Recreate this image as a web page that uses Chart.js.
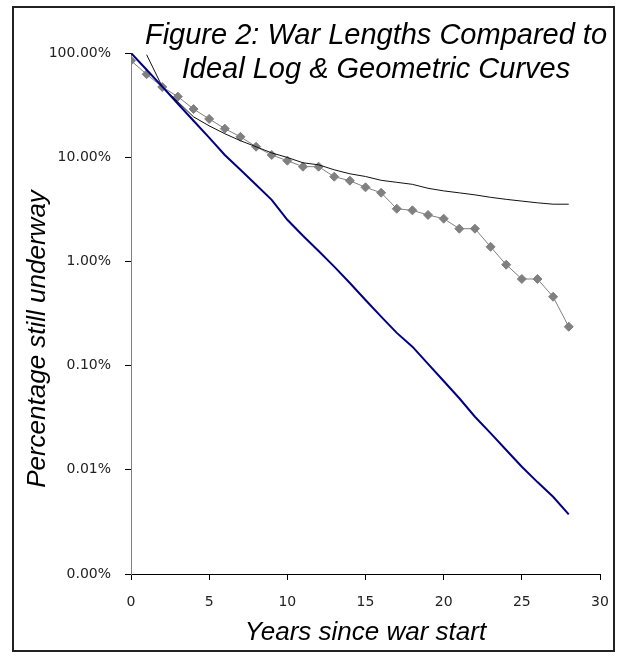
<!DOCTYPE html>
<html>
<head>
<meta charset="utf-8">
<title>War Lengths Compared to Ideal Log & Geometric Curves</title>
<script src="https://cdn.jsdelivr.net/npm/chart.js@4.4.0/dist/chart.umd.min.js"></script>
<style>
  html, body { margin: 0; padding: 0; background: #fff; }
  canvas { display: block; }
</style>
</head>
<body>
<canvas id="warChart" width="618" height="656"></canvas>
<script>
// years since war start, and % of wars still going
const years = [0, 1, 2, 3, 4, 5, 6, 7, 8, 9, 10, 11, 12, 13, 14, 15, 16, 17, 18, 19, 20, 21, 22, 23, 24, 25, 26, 27, 28];
const actualPct = [84.4, 62.5, 47.2, 38.1, 29.0, 23.3, 18.8, 15.7, 12.6, 10.5, 9.26, 8.11, 8.11, 6.50, 5.95, 5.14, 4.56, 3.20, 3.09, 2.79, 2.57, 2.06, 2.06, 1.38, 0.93, 0.678, 0.678, 0.458, 0.236];
const geoPct = [100, 69.1, 47.5, 32.6, 22.4, 15.4, 10.5, 7.57, 5.43, 3.90, 2.51, 1.76, 1.26, 0.891, 0.621, 0.426, 0.295, 0.206, 0.152, 0.104, 0.0711, 0.0486, 0.0323, 0.0225, 0.0155, 0.0107, 0.00762, 0.00551, 0.00373];
const logYears = [1, 2, 3, 4, 5, 6, 7, 8, 9, 10, 11, 12, 13, 14, 15, 16, 17, 18, 19, 20, 21, 22, 23, 24, 25, 26, 27, 28];
const logPct = [96.3, 47.4, 34.0, 24.4, 20.0, 16.8, 14.4, 12.6, 11.0, 9.94, 8.84, 8.45, 7.57, 6.93, 6.53, 6.00, 5.74, 5.49, 5.03, 4.75, 4.55, 4.35, 4.12, 3.94, 3.79, 3.65, 3.54, 3.54];

const yTicks = [0.001, 0.01, 0.1, 1, 10, 100];
const titleLines = ["Figure 2: War Lengths Compared to", "Ideal Log & Geometric Curves"];
const yTitle = "Percentage still underway";
const xTitle = "Years since war start";

function toPoints(xs, ys) {
  return xs.map((x, i) => ({ x: x, y: ys[i] }));
}

// white background, frame, title and y title drawn by hand
const frameAndText = {
  id: "frameAndText",
  beforeDraw(chart) {
    const c = chart.ctx;
    c.save();
    c.fillStyle = "#fff";
    c.fillRect(0, 0, chart.width, chart.height);
    c.restore();
  },
  afterDraw(chart) {
    const c = chart.ctx;
    c.save();
    c.strokeStyle = "#222";
    c.lineWidth = 2;
    c.strokeRect(13, 7, 601, 644);

    c.fillStyle = "#000";
    c.textAlign = "center";
    c.textBaseline = "alphabetic";
    c.font = "italic 29px 'Liberation Sans', Arial, sans-serif";
    c.fillText(titleLines[0], 376, 44);
    c.fillText(titleLines[1], 376, 78);

    c.translate(45, 339);
    c.rotate(-Math.PI / 2);
    c.font = "italic 26px 'Liberation Sans', Arial, sans-serif";
    c.fillText(yTitle, 0, 0);
    c.restore();
  }
};

const tickFont = { family: "'DejaVu Sans', sans-serif", size: 14 };

new Chart(document.getElementById("warChart"), {
  type: "line",
  data: {
    datasets: [
      {
        label: "Geometric",
        data: toPoints(years, geoPct),
        borderColor: "#000080",
        borderWidth: 2,
        pointRadius: 0,
        tension: 0,
      },
      {
        label: "Log",
        data: toPoints(logYears, logPct),
        borderColor: "#111",
        borderWidth: 1,
        pointRadius: 0,
        tension: 0,
      },
      {
        label: "Wars",
        data: toPoints(years, actualPct),
        borderColor: "#808080",
        borderWidth: 1,
        pointStyle: "rectRot",
        pointRadius: 4.5,
        pointBackgroundColor: "#808080",
        pointBorderColor: "#808080",
        pointBorderWidth: 1,
        tension: 0,
      },
    ],
  },
  options: {
    responsive: false,
    animation: false,
    devicePixelRatio: 1,
    layout: { padding: { top: 53, right: 18, left: 0, bottom: 0 } },
    plugins: {
      legend: { display: false },
      tooltip: { enabled: false },
    },
    scales: {
      x: {
        type: "linear",
        min: 0,
        max: 30,
        ticks: { stepSize: 5, color: "#222", font: tickFont, padding: 14, maxRotation: 0 },
        grid: { display: true, drawOnChartArea: false, drawTicks: true, tickLength: 6, color: "#000" },
        border: { display: true, color: "#000", width: 1 },
        title: {
          display: true,
          text: xTitle,
          color: "#000",
          font: { family: "'Liberation Sans', Arial, sans-serif", size: 26, style: "italic" },
          padding: { top: 0, bottom: 8 },
        },
        afterFit: (s) => {
          s.height = 82;
          s.paddingLeft = 0;
          s.paddingRight = 0;
        },
      },
      y: {
        type: "logarithmic",
        min: 0.001,
        max: 100,
        afterBuildTicks: (s) => { s.ticks = yTicks.map((v) => ({ value: v })); },
        ticks: {
          color: "#222",
          font: tickFont,
          padding: 14,
          autoSkip: false,
          callback: (v) => Number(v).toFixed(2) + "%",
        },
        grid: { display: true, drawOnChartArea: false, drawTicks: true, tickLength: 6, color: "#000" },
        border: { display: true, color: "#808080", width: 1 },
        afterFit: (s) => {
          s.width = 131;
          s.paddingTop = 0;
          s.paddingBottom = 0;
        },
      },
    },
  },
  plugins: [frameAndText],
});
</script>
</body>
</html>
